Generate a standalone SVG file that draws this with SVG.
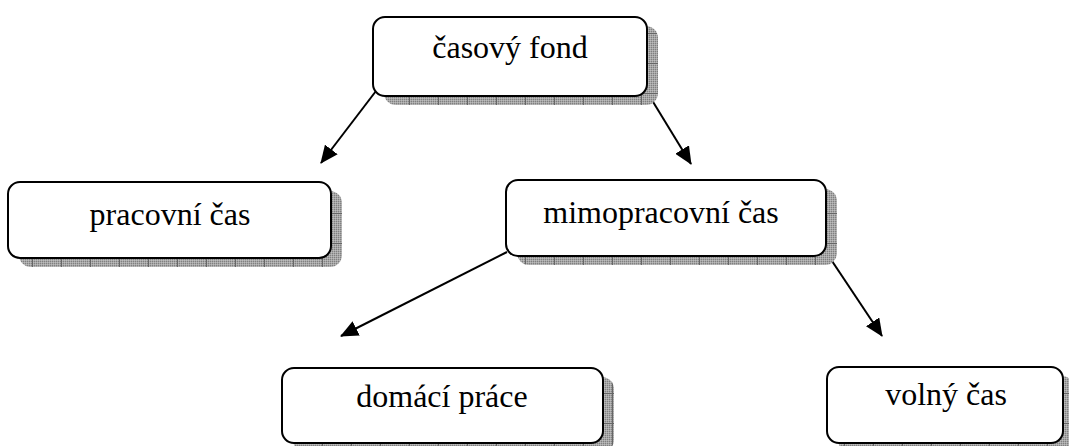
<svg xmlns="http://www.w3.org/2000/svg" width="1069" height="446" viewBox="0 0 1069 446">
<style>
.box{fill:#fff;stroke:#000;stroke-width:2}
.sh{fill:url(#shp)}
.lbl{font-size:32px;fill:#000;text-anchor:middle}
.con{stroke:#000;stroke-width:2;fill:none;marker-end:url(#ah)}
</style>
<defs>
<pattern id="dots" width="2" height="2" patternUnits="userSpaceOnUse">
<rect width="2" height="2" fill="#a6a6a6"/>
<rect width="1" height="1" fill="#808080"/>
<rect x="1" y="1" width="1" height="1" fill="#bcbcbc"/>
</pattern>
<pattern id="shp" width="29" height="30" patternUnits="userSpaceOnUse" x="3" y="3">
<rect width="29" height="30" fill="url(#dots)"/>
<path d="M0 0.5H29M0.5 0V30" stroke="#666" stroke-width="1"/>
</pattern>
<marker id="ah" markerWidth="18" markerHeight="16" refX="17" refY="8" orient="auto" markerUnits="userSpaceOnUse">
<path d="M0 0L18 8L0 16Z" fill="#000"/>
</marker>
</defs>
<g id="connectors">
<line class="con" x1="376" y1="91" x2="321" y2="163"/>
<line class="con" x1="647" y1="92" x2="691" y2="164"/>
<line class="con" x1="507" y1="252" x2="341" y2="336"/>
<line class="con" x1="826" y1="252" x2="882" y2="336"/>
</g>
<g id="node-casovy-fond">
<rect class="sh" x="384" y="26" width="274" height="79" rx="12"/>
<rect class="box" x="373" y="17" width="274" height="79" rx="12"/>
<text class="lbl" font-family="'Liberation Serif', 'DejaVu Serif', 'Times New Roman', serif" x="510" y="58">časový fond</text>
</g>
<g id="node-pracovni-cas">
<rect class="sh" x="19" y="191" width="323" height="76" rx="12"/>
<rect class="box" x="8" y="182" width="323" height="76" rx="12"/>
<text class="lbl" font-family="'Liberation Serif', 'DejaVu Serif', 'Times New Roman', serif" x="170" y="225">pracovní čas</text>
</g>
<g id="node-mimopracovni-cas">
<rect class="sh" x="517" y="189" width="320" height="76" rx="12"/>
<rect class="box" x="506" y="180" width="320" height="76" rx="12"/>
<text class="lbl" font-family="'Liberation Serif', 'DejaVu Serif', 'Times New Roman', serif" x="661" y="223">mimopracovní čas</text>
</g>
<g id="node-domaci-prace">
<rect class="sh" x="293" y="377" width="321" height="75" rx="12"/>
<rect class="box" x="282" y="368" width="321" height="75" rx="12"/>
<text class="lbl" font-family="'Liberation Serif', 'DejaVu Serif', 'Times New Roman', serif" x="442" y="407">domácí práce</text>
</g>
<g id="node-volny-cas">
<rect class="sh" x="838" y="376" width="236" height="76" rx="12"/>
<rect class="box" x="827" y="367" width="236" height="76" rx="12"/>
<text class="lbl" font-family="'Liberation Serif', 'DejaVu Serif', 'Times New Roman', serif" x="946" y="405">volný čas</text>
</g>
</svg>
